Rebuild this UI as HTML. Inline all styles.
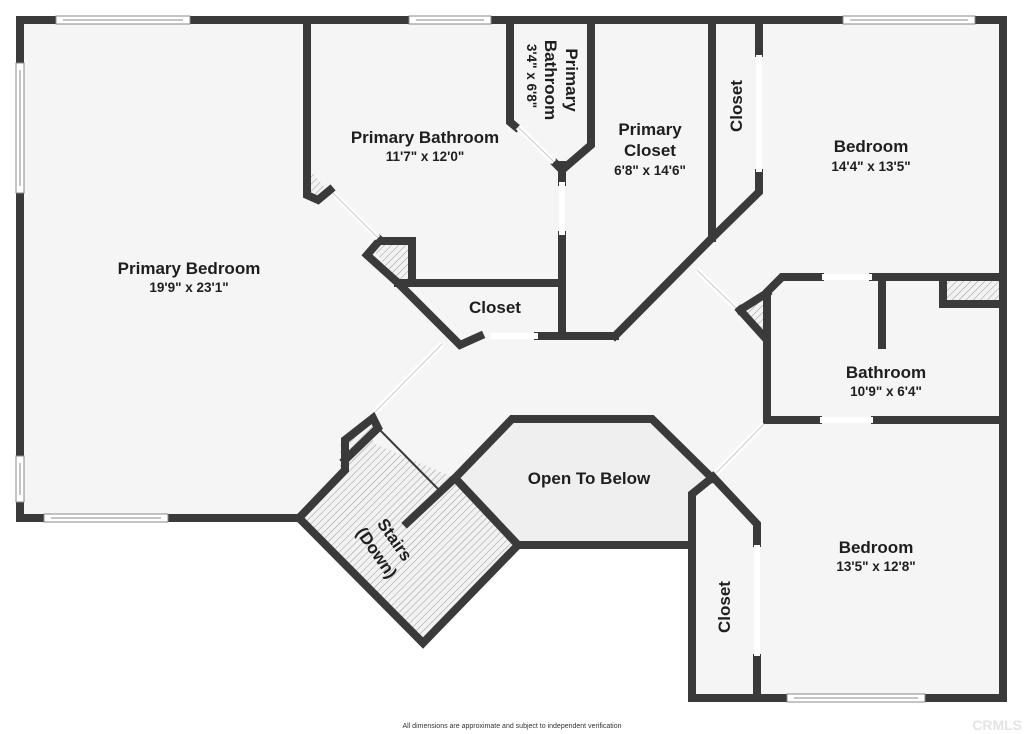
<!DOCTYPE html>
<html><head><meta charset="utf-8"><style>
html,body{margin:0;padding:0;background:#fff;}
svg{display:block;}
text{font-family:"Liberation Sans",sans-serif;fill:#1e1e1e;}
.t{font-weight:bold;font-size:17px;}
.d{font-weight:bold;font-size:13.5px;}
</style></head><body>
<svg width="1024" height="734" viewBox="0 0 1024 734" xmlns="http://www.w3.org/2000/svg">
<defs>
<pattern id="h" width="5" height="5" patternUnits="userSpaceOnUse" patternTransform="rotate(45)">
<rect width="5" height="5" fill="#f2f2f2"/><line x1="0" y1="0" x2="0" y2="5" stroke="#999" stroke-width="1"/>
</pattern>
</defs>
<polygon points="20,20 1003,20 1003,698 692,698 692,545 518,545 423,643 299,518 20,518" fill="#f5f5f5"/>
<polygon points="455,478 512,419 652,419 712,478 692,494 692,545 518,545" fill="#efefef"/>
<polygon points="299,518 373,443 455,478 518,545 423,643" fill="url(#h)"/>
<polygon points="340,445 373,422 373,460 340,470" fill="url(#h)"/>
<polygon points="370,245 412,241 412,283 398,283" fill="url(#h)"/>
<polygon points="740,310 767,292 767,340" fill="url(#h)"/>
<rect x="943" y="280" width="59" height="24" fill="url(#h)"/>
<polygon points="310,170 325,188 310,198" fill="url(#h)"/>
<g fill="none" stroke="#3a3a3a" stroke-width="8" stroke-linejoin="miter" stroke-linecap="square">
<polyline points="20,518 20,20 1003,20 1003,698 692,698"/>
<polyline points="20,518 299,518"/>
<polyline points="307,20 307,195 318,200 330,190"/>
<polyline points="380,240 367,255 398,283 412,283 412,241 380,241"/>
<polyline points="398,283 562,283"/>
<polyline points="398,283 460,345 480,336"/>
<line x1="538" y1="336" x2="615" y2="336"/>
<polyline points="615,336 712,238 759,192 759,173"/>
<line x1="759" y1="20" x2="759" y2="53"/>
<line x1="712" y1="20" x2="712" y2="238"/>
<line x1="562" y1="336" x2="562" y2="235"/>
<line x1="562" y1="182" x2="562" y2="165"/>
<polyline points="510,20 510,122 516,127"/>
<polyline points="591,20 591,145 562,170 556,164"/>
<polyline points="740,310 767,340 767,420 818,420"/>
<polyline points="740,310 767,293"/>
<polyline points="767,340 767,292 782,277 820,277"/>
<line x1="873" y1="277" x2="1003" y2="277"/>
<line x1="882" y1="277" x2="882" y2="345"/>
<polyline points="943,280 943,304 1003,304"/>
<line x1="875" y1="420" x2="1003" y2="420"/>
<polyline points="407,523 455,478 512,419 652,419 712,478"/>
<line x1="518" y1="545" x2="692" y2="545"/>
<polyline points="713,477 692,494 692,698"/>
<polyline points="713,477 757,524 757,543"/>
<line x1="757" y1="658" x2="757" y2="698"/>
<polyline points="299,518 423,643 518,545 455,478"/>
<polyline points="299,518 345,470 345,440 373,418 378,428 345,460"/>
</g>
<line x1="378" y1="428" x2="443" y2="494" stroke="#3a3a3a" stroke-width="2"/>
<g stroke="#fff" stroke-width="6" stroke-linecap="butt">
<line x1="333" y1="193" x2="378" y2="238"/>
<line x1="490" y1="336" x2="538" y2="336"/>
<line x1="562" y1="182" x2="562" y2="235"/>
<line x1="518" y1="127" x2="554" y2="162"/>
<line x1="759" y1="55" x2="759" y2="172"/>
<line x1="697" y1="270" x2="736" y2="308"/>
<line x1="822" y1="277" x2="872" y2="277"/>
<line x1="820" y1="420" x2="873" y2="420"/>
<line x1="764" y1="424" x2="716" y2="473"/>
<line x1="757" y1="545" x2="757" y2="656"/>
<line x1="442" y1="344" x2="375" y2="412"/>
</g>
<g stroke="#ccc" stroke-width="1">
<line x1="333" y1="193" x2="378" y2="238"/>
<line x1="518" y1="127" x2="554" y2="162"/>
<line x1="697" y1="270" x2="736" y2="308"/>
<line x1="764" y1="424" x2="716" y2="473"/>
<line x1="442" y1="344" x2="375" y2="412"/>
</g>
<g fill="#fff" stroke="#888" stroke-width="1">
<rect x="56" y="16" width="134" height="8"/><line x1="63" y1="20" x2="183" y2="20"/>
<rect x="409" y="16" width="82" height="8"/><line x1="416" y1="20" x2="484" y2="20"/>
<rect x="843" y="16" width="132" height="8"/><line x1="850" y1="20" x2="968" y2="20"/>
<rect x="16" y="63" width="8" height="130"/><line x1="20" y1="70" x2="20" y2="186"/>
<rect x="16" y="456" width="8" height="46"/><line x1="20" y1="463" x2="20" y2="495"/>
<rect x="44" y="514" width="124" height="8"/><line x1="51" y1="518" x2="161" y2="518"/>
<rect x="787" y="694" width="138" height="8"/><line x1="794" y1="698" x2="918" y2="698"/>
</g>
<text class="t" x="189" y="274" text-anchor="middle">Primary Bedroom</text>
<text class="d" x="189" y="292" text-anchor="middle">19'9" x 23'1"</text>
<text class="t" x="425" y="143" text-anchor="middle">Primary Bathroom</text>
<text class="d" x="425" y="161" text-anchor="middle">11'7" x 12'0"</text>
<text class="t" x="650" y="135" text-anchor="middle">Primary</text>
<text class="t" x="650" y="156" text-anchor="middle">Closet</text>
<text class="d" x="650" y="175" text-anchor="middle">6'8" x 14'6"</text>
<text class="t" transform="translate(566,80) rotate(90)" text-anchor="middle">Primary</text>
<text class="t" transform="translate(545,80) rotate(90)" text-anchor="middle">Bathroom</text>
<text class="d" transform="translate(527,76) rotate(90)" text-anchor="middle">3'4" x 6'8"</text>
<text class="t" transform="translate(742,106) rotate(-90)" text-anchor="middle">Closet</text>
<text class="t" x="871" y="152" text-anchor="middle">Bedroom</text>
<text class="d" x="871" y="171" text-anchor="middle">14'4" x 13'5"</text>
<text class="t" x="495" y="313" text-anchor="middle">Closet</text>
<text class="t" x="886" y="378" text-anchor="middle">Bathroom</text>
<text class="d" x="886" y="396" text-anchor="middle">10'9" x 6'4"</text>
<text class="t" x="589" y="484" text-anchor="middle">Open To Below</text>
<text class="t" transform="translate(390,543) rotate(55)" text-anchor="middle">Stairs</text>
<text class="t" transform="translate(372,556) rotate(55)" text-anchor="middle">(Down)</text>
<text class="t" x="876" y="553" text-anchor="middle">Bedroom</text>
<text class="d" x="876" y="571" text-anchor="middle">13'5" x 12'8"</text>
<text class="t" transform="translate(730,607) rotate(-90)" text-anchor="middle">Closet</text>
<text x="512" y="728" text-anchor="middle" style="font-size:7px;fill:#333">All dimensions are approximate and subject to independent verification</text>
<text x="1022" y="730" text-anchor="end" style="font-size:14px;font-weight:bold;fill:#e4e4e4">CRMLS</text>
</svg>
</body></html>
